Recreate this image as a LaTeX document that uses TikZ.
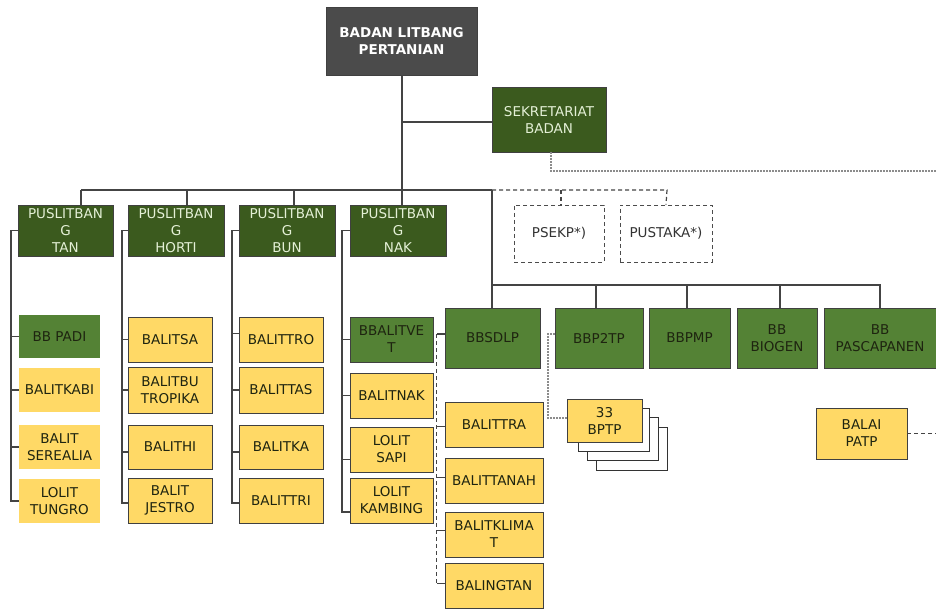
\documentclass[tikz,border=0pt]{standalone}
\usepackage{fontspec}
\setmainfont{DejaVu Sans}
\definecolor{headgray}{HTML}{4B4B4B}
\definecolor{darkgreen}{HTML}{3B5A1E}
\definecolor{midgreen}{HTML}{548235}
\definecolor{gold}{HTML}{FFD966}
\definecolor{paletext}{HTML}{E4F0D6}
\definecolor{darktext}{HTML}{1E2410}
\definecolor{linegray}{HTML}{444444}
\begin{document}
\begin{tikzpicture}[x=1pt, y=-1pt,
    box/.style={rectangle, draw=black!75, line width=0.9pt, inner sep=0pt, align=center, font=\fontsize{13.5}{17}\selectfont},
    dim/.style 2 args={minimum width=#1, minimum height=#2},
    head/.style={box, fill=headgray, text=white, font=\fontsize{13.5}{17}\selectfont\bfseries},
    pusat/.style={box, fill=darkgreen, text=paletext},
    balai/.style={box, fill=midgreen, text=darktext},
    unit/.style={box, fill=gold, text=darktext},
    soft/.style={draw=none},
    opt/.style={box, draw=black!70, dash pattern=on 4pt off 3pt, text=black!80},
    stack/.style={rectangle, draw=black!80, fill=white, line width=0.9pt},
    link/.style={draw=linegray, line width=1.2pt},
    optlink/.style={link, dash pattern=on 4pt off 3pt},
    dotlink/.style={draw=black!45, line width=1.2pt, dash pattern=on 1.5pt off 1.5pt},
]
\useasboundingbox (0,0) rectangle (936,609);

\node[head, dim={151}{68}] (BADAN) at (401.5,41) {BADAN LITBANG\\PERTANIAN};
\node[pusat, dim={114}{65}] (SEKRE) at (549,119.5) {SEKRETARIAT\\BADAN};

\node[pusat, dim={95}{51}] (TAN) at (65.5,230.5) {PUSLITBAN\\G\\TAN};
\node[pusat, dim={96}{51}] (HORTI) at (176,230.5) {PUSLITBAN\\G\\HORTI};
\node[pusat, dim={96}{51}] (BUN) at (287,230.5) {PUSLITBAN\\G\\BUN};
\node[pusat, dim={96}{51}] (NAK) at (398,230.5) {PUSLITBAN\\G\\NAK};

\node[opt, dim={90}{57}] (PSEKP) at (559,233.5) {PSEKP*)};
\node[opt, dim={92}{57}] (PUSTAKA) at (666,233.5) {PUSTAKA*)};

\node[balai, dim={95}{60}] (BBSDLP) at (492.5,338) {BBSDLP};
\node[balai, dim={88}{60}] (BBPTP) at (599,338) {BBP2TP};
\node[balai, dim={81}{60}] (BBPMP) at (689.5,338) {BBPMP};
\node[balai, dim={80}{60}] (BIOGEN) at (777,338) {BB\\BIOGEN};
\node[balai, dim={112}{60}] (PASCA) at (880,338) {BB\\PASCAPANEN};

\node[balai, soft, dim={81}{43}] (PADI) at (59.5,336.5) {BB PADI};
\node[unit, soft, dim={81}{44}] (KABI) at (59.5,390) {BALITKABI};
\node[unit, soft, dim={81}{44}] (SEREALIA) at (59.5,447) {BALIT\\SEREALIA};
\node[unit, soft, dim={81}{44}] (TUNGRO) at (59.5,501) {LOLIT\\TUNGRO};

\node[unit, dim={84}{45}] (BALITSA) at (170,339.5) {BALITSA};
\node[unit, dim={84}{46}] (TROPIKA) at (170,390) {BALITBU\\TROPIKA};
\node[unit, dim={84}{44}] (BALITHI) at (170,447) {BALITHI};
\node[unit, dim={84}{45}] (JESTRO) at (170,500.5) {BALIT\\JESTRO};

\node[unit, dim={84}{45}] (BALITTRO) at (281,339.5) {BALITTRO};
\node[unit, dim={84}{46}] (BALITTAS) at (281,390) {BALITTAS};
\node[unit, dim={84}{44}] (BALITKA) at (281,447) {BALITKA};
\node[unit, dim={84}{45}] (BALITTRI) at (281,500.5) {BALITTRI};

\node[balai, dim={83}{45}] (BBALITVET) at (391.5,339.5) {BBALITVE\\T};
\node[unit, dim={83}{45}] (BALITNAK) at (391.5,395.5) {BALITNAK};
\node[unit, dim={83}{45}] (SAPI) at (391.5,449.5) {LOLIT\\SAPI};
\node[unit, dim={83}{45}] (KAMBING) at (391.5,500.5) {LOLIT\\KAMBING};

\node[unit, dim={98}{45}] (BALITTRA) at (494,424.5) {BALITTRA};
\node[unit, dim={98}{45}] (BALITTANAH) at (494,480.5) {BALITTANAH};
\node[unit, dim={98}{45}] (KLIMAT) at (494,534.5) {BALITKLIMA\\T};
\node[unit, dim={98}{45}] (BALINGTAN) at (494,585.5) {BALINGTAN};

\node[stack, dim={71}{43}] (BPTPc) at (631.5,448.5) {};
\node[stack, dim={71}{43}] (BPTPb) at (622.5,438.5) {};
\node[stack, dim={71}{43}] (BPTPa) at (613.5,429.5) {};
\node[unit, dim={75}{43}] (BPTP) at (604.5,420.5) {33\\BPTP};

\node[unit, dim={91}{51}] (PATP) at (861.5,433.5) {BALAI\\PATP};

\coordinate (BUSL) at (81,190);
\coordinate (BUSM) at (492,190);
\coordinate (BUSR) at (667,190);
\coordinate (SEKBUS) at (402,122);
\coordinate (BALAIBUS) at (492,285);
\coordinate (DOTEND) at (936,171);
\coordinate (PATPEND) at (936,433.5);

\draw[link] (BADAN.south -| NAK.north) ++(4,0) -- ([xshift=4pt]NAK.north);
\draw[link] (SEKBUS) -- (SEKRE.west |- SEKBUS);
\draw[link] (BUSL) -- (BUSM);
\draw[link] (BUSL) -- (BUSL |- TAN.north);
\draw[link] (187,190) -- ([xshift=11pt]HORTI.north);
\draw[link] (294,190) -- ([xshift=7pt]BUN.north);
\draw[optlink] (BUSM) -- (BUSR) -- (PUSTAKA.north);
\draw[optlink] (561,190) -- (PSEKP.north -| 561,0);
\draw[dotlink] ([xshift=2pt]SEKRE.south) |- (DOTEND);

\draw[link] (BUSM) -- (BALAIBUS) -- (BALAIBUS -| PASCA.north) -- (PASCA.north);
\draw[link] (BALAIBUS) -- (BBSDLP.north -| BALAIBUS);
\draw[link] (BALAIBUS -| 596,0) -- (BBPTP.north -| 596,0);
\draw[link] (BALAIBUS -| 687,0) -- (BBPMP.north -| 687,0);
\draw[link] (BALAIBUS -| 780,0) -- (BIOGEN.north -| 780,0);

\draw[link] (TAN.west) -| (11,501) -- (TUNGRO.west);
\draw[link] (PADI.west) -- (PADI.west -| 11,0);
\draw[link] (KABI.west) -- (KABI.west -| 11,0);
\draw[link] (SEREALIA.west) -- (SEREALIA.west -| 11,0);

\draw[link] (HORTI.west) -| (122,503) -- (JESTRO.west |- 122,503);
\draw[link] (BALITSA.west) -- (BALITSA.west -| 122,0);
\draw[link] (TROPIKA.west) -- (TROPIKA.west -| 122,0);
\draw[link] (BALITHI.west) ++(0,5) -- ++(-6,0);

\draw[link] (BUN.west) -| (232,503) -- (BALITTRI.west |- 232,503);
\draw[link] (BALITTRO.west) ++(0,-6) -- ++(-7,0);
\draw[link] (BALITTAS.west) -- (BALITTAS.west -| 232,0);
\draw[link] (BALITKA.west) ++(0,5) -- ++(-7,0);

\draw[link] (NAK.west) -| (342,512) -- (KAMBING.west |- 342,512);
\draw[link] (BBALITVET.west) -- (BBALITVET.west -| 342,0);
\draw[link] (BALITNAK.west) -- (BALITNAK.west -| 342,0);
\draw[link] (SAPI.west) ++(0,10) -- ++(-8,0);

\draw[link] ([yshift=4pt]BBSDLP.west) -- ++(-8,0) coordinate (SDLPSPINE);
\draw[optlink] (SDLPSPINE) -- (SDLPSPINE |- 0,583);
\draw[link] (BALITTRA.west) ++(0,2) -- ++(-8,0);
\draw[link] (BALITTANAH.west) ++(0,-3) -- ++(-8,0);
\draw[link] (KLIMAT.west) ++(0,-4) -- ++(-8,0);
\draw[link] (BALINGTAN.west) ++(0,-2) -- ++(-8,0);

\draw[dotlink] ([yshift=4pt]BBPTP.west) -| (548,418) -- (BPTP.west |- 548,418);
\draw[optlink] (PATP.east) -- (PATPEND);
\end{tikzpicture}
\end{document}
